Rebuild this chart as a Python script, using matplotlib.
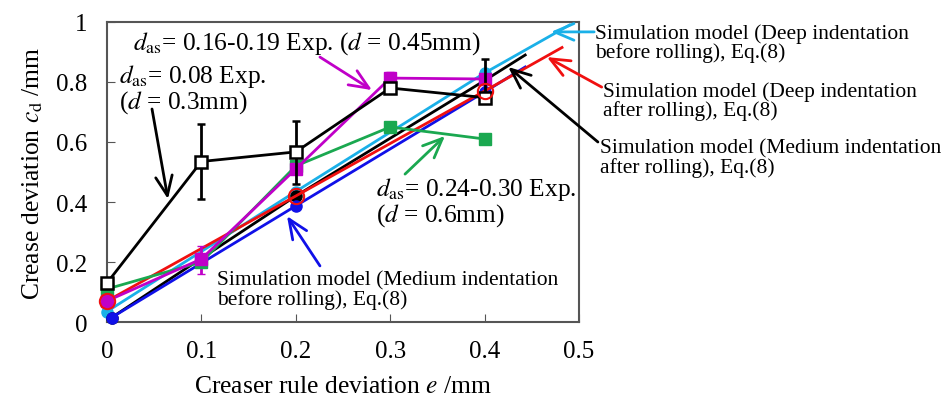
import numpy as np
import matplotlib
matplotlib.use("Agg")
import matplotlib.pyplot as plt

plt.rcParams['font.family'] = ['Liberation Serif', 'DejaVu Serif']
plt.rcParams['mathtext.fontset'] = 'stix'

# experiments
xe = [0, 0.1, 0.2, 0.3, 0.4]
exp03 = [0.13, 0.535, 0.567, 0.78, 0.748]
exp03_lo = [0.0, 0.125, 0.107, 0.0, 0.0]
exp03_hi = [0.0, 0.125, 0.103, 0.0, 0.13]
exp045 = [0.07, 0.21, 0.51, 0.813, 0.81]
exp045_lo = [0.0, 0.05, 0.0, 0.0, 0.0]
exp045_hi = [0.0, 0.045, 0.0, 0.02, 0.0]
exp06 = [0.11, 0.2, 0.52, 0.65, 0.61]

# simulation model lines (last point = line end, no marker)
deep_before_x = [0, 0.2, 0.4, 0.49]
deep_before_y = [0.035, 0.435, 0.83, 0.99]
deep_after_x = [0, 0.2, 0.4, 0.482]
deep_after_y = [0.07, 0.42, 0.77, 0.915]
med_after_x = [0.005, 0.2, 0.4, 0.443]
med_after_y = [0.015, 0.42, 0.805, 0.89]
med_before_x = [0.005, 0.2, 0.4, 0.443]
med_before_y = [0.015, 0.387, 0.767, 0.85]

c_black = 'black'
c_mag = '#c000c8'
c_green = '#1aa850'
c_cyan = '#1ab0e8'
c_red = '#f01010'
c_blue = '#1010e8'

fig = plt.figure(figsize=(9.5, 4.02), dpi=100)
ax = fig.add_axes([0.1126, 0.1965, 0.4969, 0.7463])

ax.plot(deep_before_x, deep_before_y, color=c_cyan, lw=2, marker='o', ms=8,
        markevery=[0, 1, 2], clip_on=False, zorder=3)
ax.plot(med_after_x, med_after_y, color=c_black, lw=2, marker='o', ms=8,
        markevery=[0, 1, 2], clip_on=False, zorder=4)
ax.plot(med_before_x, med_before_y, color=c_blue, lw=2, marker='o', ms=8,
        markevery=[0, 1, 2], clip_on=False, zorder=4)
ax.plot(deep_after_x, deep_after_y, color=c_red, lw=2, clip_on=False, zorder=4)
ax.plot(deep_after_x[:3], deep_after_y[:3], ls='none', marker='o', ms=11,
        mfc='none', mec=c_red, mew=1.5, clip_on=False, zorder=7)

ax.errorbar(xe, exp06, color=c_green, lw=2, marker='s', ms=8, clip_on=False, zorder=5)
ax.errorbar(xe, exp045, yerr=[exp045_lo, exp045_hi], color=c_mag, lw=2, marker='s',
            ms=8, capsize=3, elinewidth=2, clip_on=False, zorder=5)
ax.errorbar(xe, exp03, yerr=[exp03_lo, exp03_hi], color=c_black, lw=2, marker='s',
            ms=8, mfc='white', mew=1.8, capsize=3, elinewidth=2, clip_on=False, zorder=6)

ax.set_xlim(0, 0.5)
ax.set_ylim(0, 1)
ax.set_xticks([0, 0.1, 0.2, 0.3, 0.4, 0.5])
ax.set_xticklabels(['0', '0.1', '0.2', '0.3', '0.4', '0.5'])
ax.set_yticks([0, 0.2, 0.4, 0.6, 0.8, 1])
ax.set_yticklabels(['0', '0.2', '0.4', '0.6', '0.8', '1'])
ax.tick_params(direction='in', labelsize=18, length=6, color='#555555')
ax.tick_params(axis='x', pad=13)
ax.tick_params(axis='y', pad=14)
for s in ax.spines.values():
    s.set_color('#555555')
    s.set_linewidth(1.5)

ax.set_xlabel(r'Creaser rule deviation $e$ /mm', fontsize=18.4, labelpad=9)
ax.set_ylabel(r'Crease deviation $c_{\rm d}$ /mm', fontsize=18.4, labelpad=8)

big = 18.3
small = 15.5


def arrow(tip, start, color):
    ax.annotate('', xy=tip, xytext=start, annotation_clip=False, zorder=8,
                arrowprops=dict(arrowstyle='->,head_length=0.7,head_width=0.3',
                                color=color, lw=2, mutation_scale=20,
                                shrinkA=0, shrinkB=0))


ax.text(0.0275, 0.933, r'$d_{\rm as}$= 0.16-0.19 Exp. ($d$ = 0.45mm)', fontsize=big,
        ha='left', va='center', zorder=8)
arrow((0.2807, 0.773), (0.2256, 0.883), c_mag)

ax.text(0.0127, 0.777, r'$d_{\rm as}$= 0.08 Exp.' + '\n' + r'($d$ = 0.3mm)', fontsize=big,
        ha='left', va='center', linespacing=0.95, zorder=8)
arrow((0.0646, 0.41), (0.0477, 0.71), c_black)

ax.text(0.285, 0.403, r'$d_{\rm as}$= 0.24-0.30 Exp.' + '\n' + r'($d$ = 0.6mm)', fontsize=big,
        ha='left', va='center', linespacing=0.95, zorder=8)
arrow((0.358, 0.62), (0.3157, 0.493), c_green)

ax.text(0.1165, 0.107, 'Simulation model (Medium indentation\nbefore rolling), Eq.(8)',
        fontsize=small, ha='left', va='center', linespacing=0.95, zorder=8)
arrow((0.1907, 0.353), (0.2256, 0.187), c_blue)

ax.text(0.517, 0.93, 'Simulation model (Deep indentation\nbefore rolling), Eq.(8)',
        fontsize=small, ha='left', va='center', linespacing=0.95, clip_on=False)
arrow((0.4703, 0.967), (0.516, 0.967), c_cyan)

ax.text(0.525, 0.737, 'Simulation model (Deep indentation\nafter rolling), Eq.(8)',
        fontsize=small, ha='left', va='center', linespacing=0.95, clip_on=False)
arrow((0.466, 0.883), (0.524, 0.783), c_red)

ax.text(0.522, 0.547, 'Simulation model (Medium indentation\nafter rolling), Eq.(8)',
        fontsize=small, ha='left', va='center', linespacing=0.95, clip_on=False)
arrow((0.425, 0.85), (0.52, 0.6), c_black)

fig.savefig('out.png', dpi=100)
